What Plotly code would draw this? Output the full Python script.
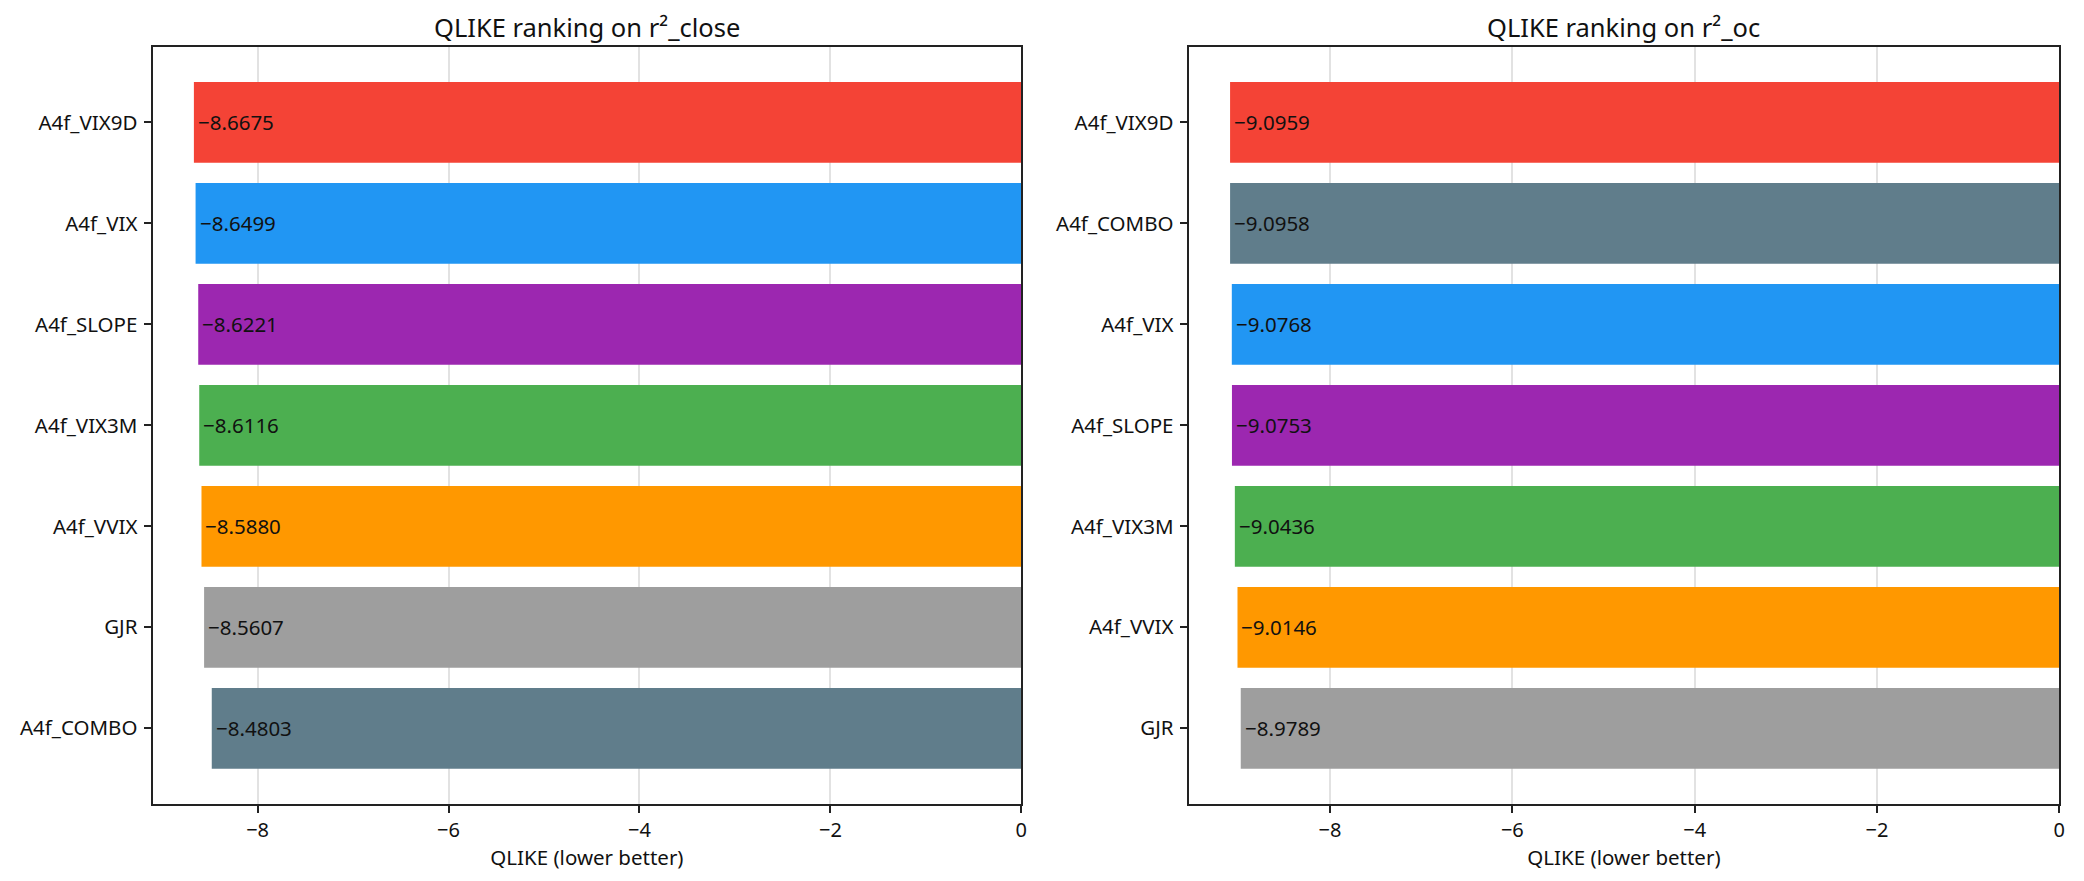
import plotly.graph_objects as go
from plotly.subplots import make_subplots

# Left panel: QLIKE on r²_close
close_models = ["A4f_VIX9D", "A4f_VIX", "A4f_SLOPE", "A4f_VIX3M", "A4f_VVIX", "GJR", "A4f_COMBO"]
close_values = [-8.6675, -8.6499, -8.6221, -8.6116, -8.5880, -8.5607, -8.4803]

# Right panel: QLIKE on r²_oc
oc_models = ["A4f_VIX9D", "A4f_COMBO", "A4f_VIX", "A4f_SLOPE", "A4f_VIX3M", "A4f_VVIX", "GJR"]
oc_values = [-9.0959, -9.0958, -9.0768, -9.0753, -9.0436, -9.0146, -8.9789]

model_colors = {
    "A4f_VIX9D": "#F44336",
    "A4f_VIX": "#2196F3",
    "A4f_SLOPE": "#9C27B0",
    "A4f_VIX3M": "#4CAF50",
    "A4f_VVIX": "#FF9800",
    "GJR": "#9E9E9E",
    "A4f_COMBO": "#607D8B",
}

titles = ["QLIKE ranking on r²_close", "QLIKE ranking on r²_oc"]
xlabel = "QLIKE (lower better)"
tick_vals = [-8, -6, -4, -2, 0]

FONT = "Noto Sans, Liberation Sans, sans-serif"

fig = make_subplots(rows=1, cols=2, horizontal_spacing=0.08)

panels = [(close_models, close_values), (oc_models, oc_values)]
domains = [[0.0734, 0.4915], [0.572, 0.991]]
ydomain = [0.0874, 0.947]

for i, (models, values) in enumerate(panels, start=1):
    fig.add_trace(
        go.Bar(
            x=values,
            y=models,
            orientation="h",
            width=0.8,
            marker=dict(color=[model_colors[m] for m in models], line=dict(width=0)),
            showlegend=False,
            hoverinfo="x+y",
        ),
        row=1, col=i,
    )
    xa = "x" if i == 1 else "x2"
    ya = "y" if i == 1 else "y2"
    for m, v in zip(models, values):
        fig.add_annotation(
            x=v, y=m, xref=xa, yref=ya,
            text=f"{v:.4f}".replace("-", "−"),
            showarrow=False, xanchor="left", yanchor="middle",
            xshift=2,
            font=dict(family=FONT, size=20.5, color="#111111"),
        )
    lo = min(values) * 1.05
    fig.update_xaxes(
        range=[lo, 0], domain=domains[i - 1],
        tickvals=tick_vals, ticks="outside", ticklen=7, tickwidth=1.5, tickcolor="#222",
        showgrid=True, gridcolor="rgba(190,190,190,0.45)", gridwidth=1.5,
        showline=True, linecolor="#222", linewidth=2, mirror=True,
        zeroline=False, layer="above traces",
        tickfont=dict(family=FONT, size=20, color="#111"),
        title=dict(text=xlabel, font=dict(family=FONT, size=20.5, color="#111"), standoff=4),
        row=1, col=i,
    )
    fig.update_yaxes(
        categoryorder="array", categoryarray=models,
        range=[6.75, -0.75], domain=ydomain,
        ticks="outside", ticklen=7, tickwidth=1.5, tickcolor="#222",
        ticklabelstandoff=2,
        showgrid=False, showline=True, linecolor="#222", linewidth=2, mirror=True,
        zeroline=False,
        tickfont=dict(family=FONT, size=20.5, color="#111"),
        row=1, col=i,
    )
    fig.add_annotation(
        x=(domains[i - 1][0] + domains[i - 1][1]) / 2, y=1.0, xref="paper", yref="paper",
        text=titles[i - 1], showarrow=False, xanchor="center", yanchor="top",
        yshift=-8,
        font=dict(family=FONT, size=25.5, color="#111"),
    )

fig.update_layout(
    width=2084, height=881,
    margin=dict(l=0, r=0, t=0, b=0),
    paper_bgcolor="white", plot_bgcolor="white",
    bargap=0.2,
)

fig.write_html("out.html")
